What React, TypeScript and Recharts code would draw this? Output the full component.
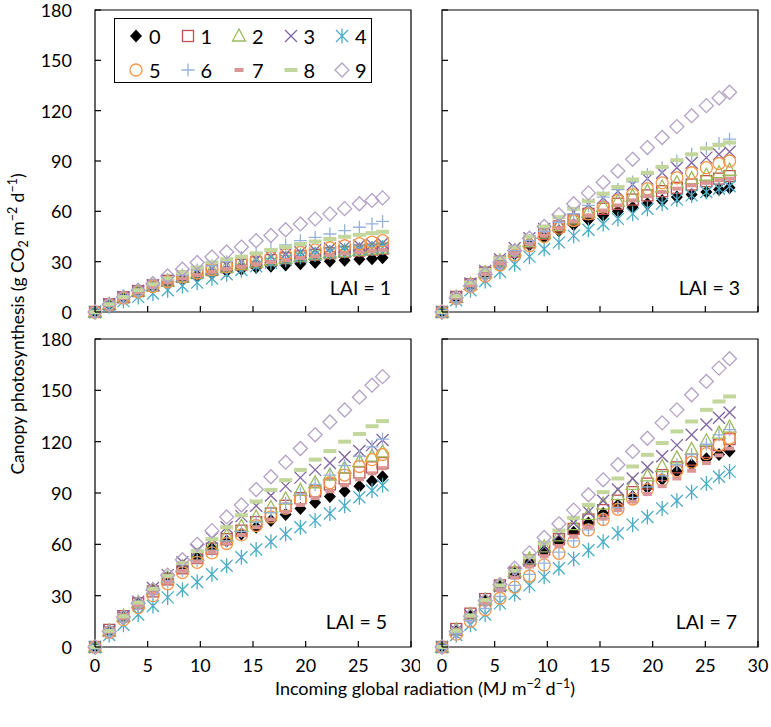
import { ScatterChart, Scatter, XAxis, YAxis, ReferenceArea, Legend } from "recharts";

// incoming global radiation (MJ m-2 d-1)
const radiation = [0, 1.35, 2.7, 4.1, 5.5, 6.9, 8.3, 9.7, 11.1, 12.5, 13.9, 15.3, 16.7, 18.1, 19.5, 20.9, 22.3, 23.7, 25.1, 26.3, 27.3];

const seriesNames = ["0", "1", "2", "3", "4", "5", "6", "7", "8", "9"];
const seriesColors = ["#000000", "#C0504D", "#9BBB59", "#8064A2", "#4BACC6", "#F79646", "#95B3D7", "#D99694", "#C3D69B", "#B3A2C7"];
const markerKinds = ["filledDiamond", "square", "triangle", "cross", "asterisk", "circle", "plus", "shortDash", "longDash", "openDiamond"];

const xTicks = [0, 5, 10, 15, 20, 25, 30];
const yTicks = [0, 30, 60, 90, 120, 150, 180];
const panelLabels = ["LAI = 1", "LAI = 3", "LAI = 5", "LAI = 7"];

// canopy photosynthesis, one row per series 0..9
const lai1 = [
	[0, 4.5, 8.5, 12, 15, 17.5, 19.5, 21.5, 23, 24.5, 25.5, 26.5, 27.3, 28, 28.8, 29.5, 30.2, 30.8, 31.4, 31.8, 32.3],
	[0, 4.6, 8.8, 12.5, 15.8, 18.6, 21, 23.2, 25, 26.7, 28.2, 29.6, 30.9, 32, 33.1, 34.1, 35, 35.8, 36.6, 37.2, 37.8],
	[0, 4.5, 8.7, 12.4, 15.6, 18.4, 21, 23.2, 25.1, 26.8, 28.3, 29.7, 31, 32.2, 33.3, 34.3, 35.2, 36, 36.8, 37.5, 38],
	[0, 4.6, 8.8, 12.6, 16, 19, 21.6, 24, 26, 28, 29.8, 31.4, 33, 34.4, 35.6, 36.8, 37.8, 38.8, 39.6, 40.3, 41],
	[0, 3.5, 6.5, 9, 11, 13, 15.5, 17.5, 20, 22.5, 25, 27.3, 29.3, 31.2, 32.8, 34.2, 35.5, 36.5, 37.3, 37.9, 38.4],
	[0, 4.3, 8.3, 12, 15.2, 18, 20.8, 23.2, 25.3, 27.2, 29, 30.8, 32.4, 34, 35.6, 37, 38.3, 39.5, 40.7, 41.6, 42.5],
	[0, 4.5, 8.5, 12.5, 16, 19, 22, 25, 27.5, 30, 32.5, 35, 37.5, 40, 42.5, 44.5, 46.5, 48.5, 50.5, 52.5, 54],
	[0, 4.3, 8.2, 11.7, 14.8, 17.5, 19.9, 22, 23.9, 25.6, 27.1, 28.5, 29.8, 31, 32.1, 33.1, 34, 34.8, 35.6, 36.3, 37],
	[0, 4.6, 9, 13, 16.5, 20, 23.5, 26.5, 29.5, 31.5, 33, 35, 37, 38.8, 40.5, 42, 43.5, 44.8, 46, 47, 47.8],
	[0, 4.5, 9, 13, 17, 21.5, 25.5, 29.5, 32.8, 35.8, 38.7, 42.5, 45.6, 49, 52.5, 55.5, 58.5, 61.6, 64.5, 66.5, 68],
];

const lai3 = [
	[0, 8.3, 15.5, 22.5, 29, 34.5, 40, 44.5, 48.5, 52, 55, 57.5, 60, 62.5, 64.5, 66.5, 68.5, 70, 71.5, 73, 74],
	[0, 9, 16.5, 23.5, 30, 36, 41.5, 46.5, 51, 55, 58.5, 61.5, 64.5, 67, 69.5, 72, 74, 76, 78, 79.5, 81],
	[0, 8.8, 16.5, 23.5, 30.5, 36.5, 42, 47, 51.5, 55.5, 59.5, 63, 66, 69, 72, 74.5, 77, 79.5, 81.5, 83, 84.5],
	[0, 9, 17, 24.5, 31.5, 38, 44, 49.5, 54.5, 59.5, 64, 68, 72, 76, 79.5, 83, 86, 89, 92, 94, 95.5],
	[0, 7, 13, 18.5, 24, 28.5, 33, 37.5, 41.5, 45.5, 49, 52.5, 55.5, 58.5, 61.5, 64.5, 67, 69.5, 71.5, 73.5, 75],
	[0, 8, 15, 21.5, 28, 34, 39.5, 45, 50, 54.5, 58.5, 62.5, 66.5, 70, 73.5, 77, 80, 83, 86, 88.5, 90],
	[0, 8.5, 16, 23, 30, 36.5, 42.5, 48, 53.5, 58.5, 63.5, 68.5, 73, 77.5, 82, 86, 90, 94, 97.5, 100.5, 103],
	[0, 8.5, 15.8, 22.5, 29, 35, 40.5, 45.5, 50, 54, 57.5, 60.5, 63.5, 66.5, 69, 71.5, 73.5, 75.5, 77, 78.5, 79.5],
	[0, 9.5, 17.5, 25, 32, 38.5, 45, 51, 56.5, 61.5, 66, 70.5, 74.5, 79, 83, 86.5, 90.5, 94, 97.5, 99.5, 101],
	[0, 8.5, 15.5, 22.5, 29.5, 36.5, 44, 51, 58, 64.5, 71, 77.3, 84, 91, 98, 104, 110.5, 117, 123, 127.5, 131],
];

const lai5 = [
	[0, 9.5, 18, 26, 33.5, 40.5, 47, 52.5, 57.5, 62, 66, 70, 74, 77.5, 81, 84.5, 88, 91, 94, 97, 99.5],
	[0, 10, 18, 25.5, 32.5, 39.5, 46, 52, 57.5, 63, 68, 73, 78, 82.5, 87, 91, 95, 98.5, 102, 105, 107.5],
	[0, 9.5, 18, 26, 33.5, 40.5, 47, 53.5, 59.5, 65, 70.5, 76, 81.5, 86.5, 91.5, 96, 100.5, 104.5, 108.5, 111.5, 114],
	[0, 9.5, 18, 26.5, 34.5, 42, 49.5, 56.5, 63.5, 70, 76.5, 82.5, 88.5, 94, 99, 103.5, 107.5, 111, 114.5, 118, 121],
	[0, 7, 13, 19, 24, 29, 33.5, 38, 42.5, 47.5, 52.5, 57, 61.5, 66, 70, 74, 78, 82.5, 87.5, 91.5, 94.5],
	[0, 8.5, 16, 23, 30, 37, 43.5, 49.5, 55, 60.5, 65.5, 71, 76, 81, 86, 91, 96, 100.5, 105.5, 109.5, 112.5],
	[0, 9, 17, 24.5, 31.5, 38, 44.5, 50.5, 56.5, 62, 67.5, 73, 78.5, 84, 89.5, 95, 100.5, 106, 111.5, 117, 121.5],
	[0, 9, 17, 24.5, 31.5, 38, 44.5, 50, 55.5, 60.5, 65.5, 70, 74.5, 79, 83, 87, 91, 94.5, 98, 101.5, 104.5],
	[0, 9.5, 18, 26, 34, 41.5, 49, 56, 63, 70, 77, 85, 91.8, 97.5, 103.5, 109.5, 114.5, 120, 124.5, 129, 132],
	[0, 9, 17.5, 25.5, 33.5, 42, 51, 60, 68, 76, 83, 92, 99.5, 108, 116, 124, 131.5, 138.5, 146, 153, 158],
];

const lai7 = [
	[0, 10, 19, 27.5, 35.5, 43, 50, 56, 61.5, 67, 72.5, 78, 83, 88, 93, 98, 102.5, 106.5, 110, 112.5, 114.5],
	[0, 10.5, 19.5, 28, 36, 43.5, 50.5, 57, 63, 69, 74.5, 80, 85.5, 90.5, 95.5, 100.5, 105, 109.5, 114, 118, 121.5],
	[0, 10, 19, 27.5, 36, 44, 51.5, 58.5, 65, 71.5, 77.5, 83.5, 89, 95, 100, 105.5, 110.5, 115.5, 120.5, 125, 128.5],
	[0, 9.5, 18.5, 27, 35.5, 43.5, 51, 58.5, 65.5, 72.5, 79, 85.5, 92, 98.5, 105, 111.5, 118, 124, 130, 134, 137],
	[0, 7, 13, 19, 25.5, 31, 36, 41, 46, 51.5, 56.5, 61.5, 66.5, 71.5, 76, 81, 85.5, 90.5, 95.5, 99.5, 102.5],
	[0, 7.5, 15, 21.8, 28.5, 35, 41.5, 48, 54.8, 61.6, 68.4, 74.5, 80.5, 86.5, 92, 97.5, 103, 108, 113, 118, 122],
	[0, 8, 15.5, 22.5, 29.5, 36, 42.5, 49, 55.5, 62, 68.5, 75, 81.5, 87.5, 93.5, 100, 106.5, 112.5, 118.5, 124, 127],
	[0, 9.5, 18, 26, 33.5, 40.5, 47, 53, 59, 64.5, 70, 75, 80, 85, 89.5, 94, 98.5, 103, 107.5, 112, 116],
	[0, 9.5, 18.5, 27.5, 36, 44.5, 52.5, 60.5, 68, 75.5, 83, 90.5, 98.5, 105.5, 112.3, 119.2, 126, 131.8, 138.6, 143.5, 146.4],
	[0, 9, 18, 27, 36.5, 46, 55, 64, 72, 80, 89, 97.7, 106.5, 114.3, 122, 131, 138.6, 147.4, 155.2, 163, 168.5],
];

const FONT = "Lato, 'Open Sans', sans-serif";

function Marker({ kind, cx, cy, color }: { kind: string; cx: number; cy: number; color: string }) {
	const sw = 1.3;
	switch (kind) {
		case "filledDiamond":
			return <polygon points={`${cx},${cy - 6.5} ${cx + 6},${cy} ${cx},${cy + 6.5} ${cx - 6},${cy}`} fill={color} />;
		case "square":
			return <rect x={cx - 5.5} y={cy - 5.5} width={11} height={11} fill="none" stroke={color} strokeWidth={sw} />;
		case "triangle":
			return <polygon points={`${cx},${cy - 7} ${cx + 6.5},${cy + 5} ${cx - 6.5},${cy + 5}`} fill="none" stroke={color} strokeWidth={sw} />;
		case "cross":
			return <path d={`M${cx - 6},${cy - 6}L${cx + 6},${cy + 6}M${cx - 6},${cy + 6}L${cx + 6},${cy - 6}`} stroke={color} strokeWidth={sw} />;
		case "asterisk":
			return (
				<path
					d={`M${cx - 6},${cy - 6}L${cx + 6},${cy + 6}M${cx - 6},${cy + 6}L${cx + 6},${cy - 6}M${cx},${cy - 7.5}L${cx},${cy + 7.5}`}
					stroke={color}
					strokeWidth={sw}
				/>
			);
		case "circle":
			return <circle cx={cx} cy={cy} r={6} fill="none" stroke={color} strokeWidth={sw} />;
		case "plus":
			return <path d={`M${cx - 6.5},${cy}L${cx + 6.5},${cy}M${cx},${cy - 6.5}L${cx},${cy + 6.5}`} stroke={color} strokeWidth={sw} />;
		case "shortDash":
			return <rect x={cx - 4.5} y={cy - 2} width={9} height={4} fill={color} />;
		case "longDash":
			return <rect x={cx - 6.5} y={cy - 2} width={13} height={4} fill={color} />;
		default:
			return <polygon points={`${cx},${cy - 7} ${cx + 7},${cy} ${cx},${cy + 7} ${cx - 7},${cy}`} fill="none" stroke={color} strokeWidth={sw} />;
	}
}

function XTick(props: any) {
	const { x, y, payload, showLabel } = props;
	return (
		<g>
			<line x1={x} x2={x} y1={y} y2={y - 6} stroke="#000" strokeWidth={1.2} />
			{showLabel && (
				<text x={x} y={y + 25} textAnchor="middle" fontSize={18} fontFamily={FONT} fill="#000">
					{payload.value}
				</text>
			)}
		</g>
	);
}

function YTick(props: any) {
	const { x, y, payload, showLabel } = props;
	return (
		<g>
			<line x1={x} x2={x + 6} y1={y} y2={y} stroke="#000" strokeWidth={1.2} />
			{showLabel && (
				<text x={x - 23} y={y + 7} textAnchor="end" fontSize={18} fontFamily={FONT} fill="#000">
					{payload.value}
				</text>
			)}
		</g>
	);
}

function LegendBox(props: any) {
	const payload = (props.payload ?? []) as any[];
	return (
		<div style={{ position: "relative", width: 256, height: 63, border: "1px solid #000", background: "#fff", fontFamily: FONT }}>
			{payload.map((entry: any) => {
				const i = seriesNames.indexOf(String(entry.value));
				const col = i % 5;
				const row = Math.floor(i / 5);
				return (
					<div key={entry.value} style={{ position: "absolute", left: col * 51.5 + 12, top: row * 34 + 7, height: 20, display: "flex", alignItems: "center" }}>
						<svg width={18} height={18} style={{ overflow: "visible" }}>
							<Marker kind={markerKinds[i]} cx={9} cy={9} color={seriesColors[i]} />
						</svg>
						<span style={{ marginLeft: 4, fontSize: 20, lineHeight: "20px", color: "#000" }}>{entry.value}</span>
					</div>
				);
			})}
		</div>
	);
}

type PanelProps = {
	left: number;
	top: number;
	width: number;
	height: number;
	margin: { top: number; right: number; bottom: number; left: number };
	yAxisWidth: number;
	xAxisHeight: number;
	values: number[][];
	showXLabels: boolean;
	showYLabels: boolean;
	legend?: boolean;
};

function Panel({ left, top, width, height, margin, yAxisWidth, xAxisHeight, values, showXLabels, showYLabels, legend }: PanelProps) {
	return (
		<div style={{ position: "absolute", left, top, width, height }}>
			<ScatterChart width={width} height={height} margin={margin}>
				<XAxis
					type="number"
					dataKey="x"
					domain={[0, 30]}
					ticks={xTicks}
					interval={0}
					height={xAxisHeight}
					axisLine={false}
					tickLine={false}
					tickSize={0}
					tickMargin={0}
					tick={(p: any) => <XTick {...p} showLabel={showXLabels} />}
				/>
				<YAxis
					type="number"
					dataKey="y"
					domain={[0, 180]}
					ticks={yTicks}
					interval={0}
					width={yAxisWidth}
					axisLine={false}
					tickLine={false}
					tickSize={0}
					tickMargin={0}
					tick={(p: any) => <YTick {...p} showLabel={showYLabels} />}
				/>
				<ReferenceArea x1={0} x2={30} y1={0} y2={180} fill="none" fillOpacity={0} stroke="#000" strokeWidth={1.2} />
				{values.map((row, i) => (
					<Scatter
						key={seriesNames[i]}
						name={seriesNames[i]}
						data={radiation.map((x, j) => ({ x, y: row[j] }))}
						fill={seriesColors[i]}
						isAnimationActive={false}
						shape={(p: any) => <Marker kind={markerKinds[i]} cx={p.cx} cy={p.cy} color={seriesColors[i]} />}
					/>
				))}
				{legend && (
					<Legend
						layout="horizontal"
						verticalAlign="middle"
						align="center"
						wrapperStyle={{ left: 114, top: 30, width: 258, height: 65 }}
						content={(p: any) => <LegendBox {...p} />}
					/>
				)}
			</ScatterChart>
		</div>
	);
}

export default function App() {
	const supStyle = { fontSize: 12.5 };
	return (
		<div style={{ position: "absolute", left: 0, top: 0, width: 771, height: 727, background: "#fff", fontFamily: FONT, overflow: "hidden" }}>
			<Panel left={0} top={-12} width={420} height={342} margin={{ top: 22, right: 9, bottom: 0, left: 0 }} yAxisWidth={95} xAxisHeight={18} values={lai1} showXLabels={false} showYLabels legend />
			<Panel left={420} top={-12} width={351} height={342} margin={{ top: 22, right: 13, bottom: 0, left: 0 }} yAxisWidth={22} xAxisHeight={18} values={lai3} showXLabels={false} showYLabels={false} />
			<Panel left={0} top={320} width={420} height={360} margin={{ top: 19, right: 9, bottom: 0, left: 0 }} yAxisWidth={95} xAxisHeight={33} values={lai5} showXLabels showYLabels />
			<Panel left={420} top={320} width={351} height={360} margin={{ top: 19, right: 13, bottom: 0, left: 0 }} yAxisWidth={22} xAxisHeight={33} values={lai7} showXLabels showYLabels={false} />
			<svg width={771} height={727} style={{ position: "absolute", left: 0, top: 0, pointerEvents: "none" }}>
				<g fontFamily={FONT} fill="#000" fontSize={19.5}>
					<text x={391} y={295} textAnchor="end">{panelLabels[0]}</text>
					<text x={740} y={295} textAnchor="end">{panelLabels[1]}</text>
					<text x={387} y={629} textAnchor="end">{panelLabels[2]}</text>
					<text x={737} y={629} textAnchor="end">{panelLabels[3]}</text>
				</g>
				<text x={425} y={695} textAnchor="middle" fontFamily={FONT} fontSize={18} fill="#000">
					Incoming global radiation (MJ m
					<tspan dy={-7} {...supStyle}>−2</tspan>
					<tspan dy={7}> d</tspan>
					<tspan dy={-7} {...supStyle}>−1</tspan>
					<tspan dy={7}>)</tspan>
				</text>
				<text transform="translate(24,324) rotate(-90)" x={0} y={0} textAnchor="middle" fontFamily={FONT} fontSize={17.5} fill="#000">
					Canopy photosynthesis (g CO
					<tspan dy={4} {...supStyle}>2</tspan>
					<tspan dy={-4}> m</tspan>
					<tspan dy={-7} {...supStyle}>−2</tspan>
					<tspan dy={7}> d</tspan>
					<tspan dy={-7} {...supStyle}>−1</tspan>
					<tspan dy={7}>)</tspan>
				</text>
			</svg>
		</div>
	);
}
